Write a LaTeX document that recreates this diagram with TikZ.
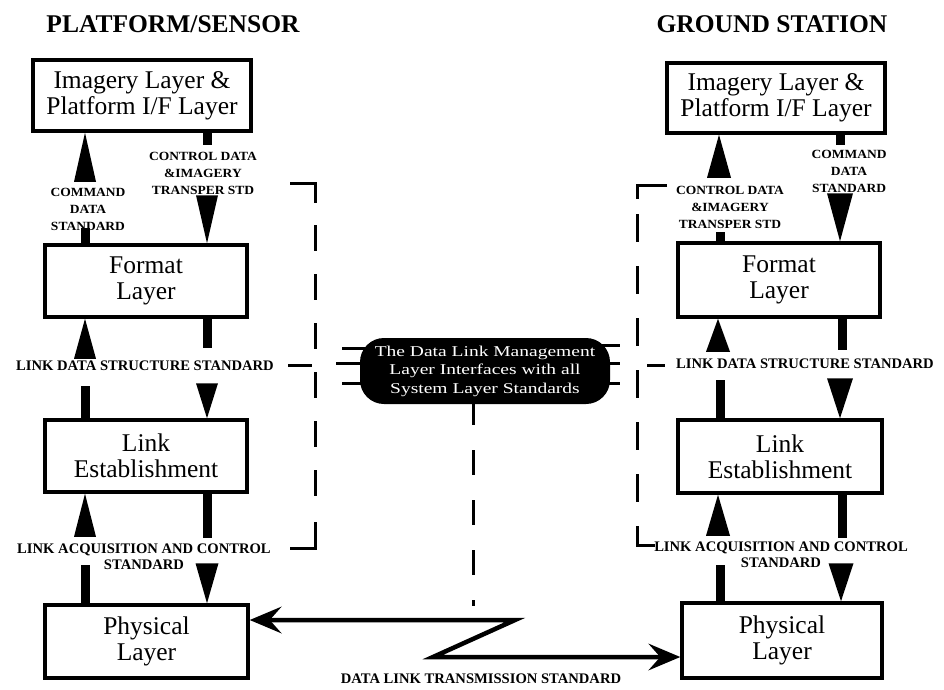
\documentclass[tikz,border=0pt]{standalone}
\usepackage{fontspec}
\setmainfont{Liberation Serif}
\newfontfamily\capsulefont[FakeStretch=1.3]{Liberation Serif}
\newfontfamily\stdfont[FakeStretch=1.08]{Liberation Serif}
\usetikzlibrary{arrows.meta}

% filled arrow heads: apex at #1, base #2 away, half width #3
\newcommand\headup[3]{\fill (#1) -- ++(-#3,#2) -- ++({2*#3},0) -- cycle;}
\newcommand\headdown[3]{\fill (#1) -- ++(-#3,-#2) -- ++({2*#3},0) -- cycle;}

\begin{document}
\begin{tikzpicture}[x=1pt,y=-1pt,
  layerbox/.style={draw, line width=3.5pt, align=center, inner sep=0pt,
    font=\fontsize{25.5}{26}\selectfont},
  title/.style={font=\bfseries\fontsize{25.5}{26}\selectfont, inner sep=0pt},
  stdlabel/.style={font=\stdfont\bfseries\fontsize{12.5}{17}\selectfont, align=center, inner sep=0pt},
  widelabel/.style={font=\bfseries\fontsize{14.6}{16}\selectfont, align=center, inner sep=0pt},
  stem/.style={line width=9pt},
  bracket/.style={line width=3pt},
  pinline/.style={line width=3pt},
  capsule/.style={fill=black, rounded corners=24pt, minimum width=250pt,
    minimum height=66pt, inner sep=0pt, text=white, align=center,
    font=\capsulefont\fontsize{15}{18.5}\selectfont},
  zline/.style={line width=4.5pt,
    {Stealth[length=32pt,width=27pt,inset=12pt,line width=0pt]}-{Stealth[length=32pt,width=27pt,inset=12pt,line width=0pt]}},
]
\useasboundingbox (0,0) rectangle (944,689);

% ---------- column titles ----------
\node[title] (t1) at (173,24) {PLATFORM/SENSOR};
\node[title] (t2) at (772,24) {GROUND STATION};

% ---------- platform / sensor stack ----------
\node[layerbox, minimum width=218pt, minimum height=71pt] (img1) at (142,95.5)
  {Imagery Layer \&\\Platform I/F Layer};
\node[layerbox, minimum width=202pt, minimum height=72pt] (fmt1) at (146,281)
  {Format\\Layer};
\node[layerbox, minimum width=202pt, minimum height=72pt] (lnk1) at (146,456)
  {Link\\Establishment};
\node[layerbox, minimum width=203pt, minimum height=73pt] (phy1) at (146.5,641.5)
  {Physical\\Layer};

% ---------- ground station stack ----------
\node[layerbox, minimum width=218pt, minimum height=70pt] (img2) at (776,98)
  {Imagery Layer \&\\Platform I/F Layer};
\node[layerbox, minimum width=202pt, minimum height=74pt] (fmt2) at (779,280)
  {Format\\Layer};
\node[layerbox, minimum width=204pt, minimum height=73pt] (lnk2) at (780,456.5)
  {Link\\Establishment};
\node[layerbox, minimum width=200pt, minimum height=75pt] (phy2) at (782,640.5)
  {Physical\\Layer};

% ---------- interface standard labels ----------
\node[stdlabel] (cmd1) at (88,209) {COMMAND\\DATA\\STANDARD};
\node[stdlabel] (ctl1) at (203,173) {CONTROL DATA\\\&IMAGERY\\TRANSPER STD};
\node[stdlabel] (ctl2) at (730,207) {CONTROL DATA\\\&IMAGERY\\TRANSPER STD};
\node[stdlabel] (cmd2) at (849,171) {COMMAND\\DATA\\STANDARD};
\node[widelabel] (lds1) at (145,366) {LINK DATA STRUCTURE STANDARD};
\node[widelabel] (lds2) at (805,364) {LINK DATA STRUCTURE STANDARD};
\node[widelabel] (lac1) at (144,557) {LINK ACQUISITION AND CONTROL\\STANDARD};
\node[widelabel] (lac2) at (781,555) {LINK ACQUISITION AND CONTROL\\STANDARD};
\node[widelabel] (dlt) at (481,679) {DATA LINK TRANSMISSION STANDARD};

% ---------- platform / sensor interface arrows ----------
\headup{85,0 |- img1.south}{49}{11}
\draw[stem] (85,228) -- (85,0 |- fmt1.north);
\draw[stem] (207,0 |- img1.south) -- (207,145);
\headdown{207,0 |- fmt1.north}{48}{11}

\headup{85,0 |- fmt1.south}{40}{11}
\draw[stem] (207,0 |- fmt1.south) -- (207,348);
\draw[stem] (85,386) -- (85,0 |- lnk1.north);
\headdown{207,0 |- lnk1.north}{35}{11}

\headup{85,0 |- lnk1.south}{43}{11}
\draw[stem] (207,0 |- lnk1.south) -- (207,538);
\draw[stem] (85,565) -- (85,0 |- phy1.north);
\headdown{207,0 |- phy1.north}{40}{11.5}

% ---------- ground station interface arrows ----------
\headup{719,0 |- img2.south}{43}{12}
\draw[stem] (720,232) -- (720,0 |- fmt2.north);
\draw[stem] (840,0 |- img2.south) -- (840,145);
\headdown{840,0 |- fmt2.north}{48}{13}

\headup{718,0 |- fmt2.south}{33}{12}
\draw[stem] (842,0 |- fmt2.south) -- (842,350);
\draw[stem] (720,380) -- (720,0 |- lnk2.north);
\headdown{840,0 |- lnk2.north}{40}{13}

\headup{718,0 |- lnk2.south}{41}{12}
\draw[stem] (842,0 |- lnk2.south) -- (842,538);
\draw[stem] (720,565) -- (720,0 |- phy2.north);
\headdown{841,0 |- phy2.north}{38}{12.5}

% ---------- management bracket, platform side ----------
\coordinate (lbTop) at (315,183);
\coordinate (lbBot) at (315,548);
\draw[bracket] (290,183) -- (lbTop) -- (315,203);
\draw[bracket, dash pattern=on 26pt off 23pt] (315,225) -- (315,500);
\draw[bracket] (315,522) -- (lbBot) -- (290,548);
\draw[bracket] (288,365) -- (312,365);

% ---------- management bracket, ground side ----------
\coordinate (rbTop) at (637,185);
\coordinate (rbBot) at (637,545);
\draw[bracket] (667,185) -- (rbTop) -- (637,199);
\draw[bracket, dash pattern=on 28pt off 24pt] (637,214) -- (637,502);
\draw[bracket] (637,526) -- (rbBot) -- (655,545);
\draw[bracket] (647,365) -- (665,365);

% ---------- data link management layer ----------
\draw[pinline] (336,363) -- (380,363);
\draw[pinline] (342,348) -- (380,348);
\draw[pinline] (342,383) -- (380,383);
\draw[pinline] (590,345) -- (620,345);
\draw[pinline] (590,363) -- (620,363);
\draw[pinline] (590,383) -- (620,383);
\draw[line width=3pt, dash pattern=on 25pt off 25pt] (473,400) -- (473,606);
\node[capsule] (dlm) at (485,371)
  {The Data Link Management\\Layer Interfaces with all\\System Layer Standards};

% ---------- transmission link ----------
\draw[zline] (phy1.east |- 0,620) -- (515,620) -- (433,657) -- (phy2.west |- 0,657);

\end{tikzpicture}
\end{document}
